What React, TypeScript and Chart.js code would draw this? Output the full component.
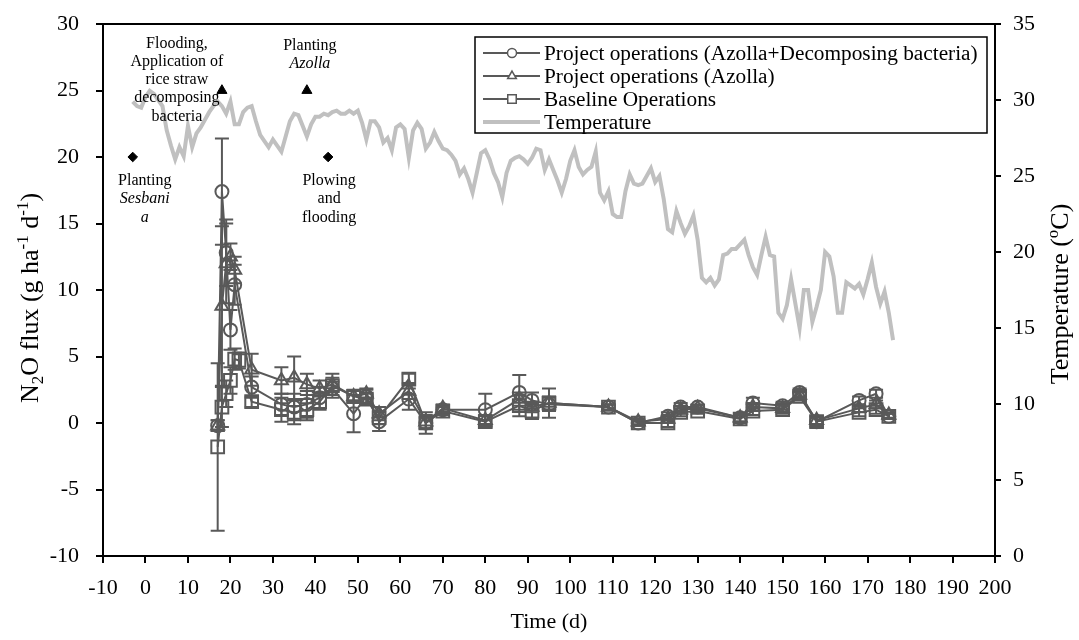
import React, { useEffect, useRef } from "react";
import { Chart, registerables } from "chart.js";

Chart.register(...registerables);

const FONT = '"Liberation Serif", "Times New Roman", Times, serif';
const SERIES_GREY = "#595959";
const TEMP_GREY = "#c0c0c0";

// Sampling days of the N2O flux measurements
const days = [17, 18, 19, 20, 21, 22, 25, 32, 35, 38, 41, 44, 49, 52, 55, 62, 66, 70, 80, 88, 91, 95, 109, 116, 123, 126, 130, 140, 143, 150, 154, 158, 168, 172, 175];

// N2O flux (g ha-1 d-1)
const fluxAzollaBacteria = [-0.2, 17.4, 12.8, 7.0, 10.4, null, 2.7, 1.4, 1.2, 1.4, 1.9, 2.6, 0.7, 2.0, 0.1, 1.8, 0.0, 1.0, 1.0, 2.3, 1.7, 1.4, 1.2, 0.0, 0.5, 1.2, 1.2, 0.4, 1.5, 1.3, 2.3, 0.1, 1.7, 2.2, 0.5];
const fluxAzolla = [-0.2, 8.8, 12.0, 12.5, 11.5, null, 4.0, 3.2, 3.4, 2.9, 2.6, 2.9, 2.0, 2.2, 0.7, 2.4, 0.1, 1.1, 0.2, 1.8, 1.2, 1.5, 1.2, 0.1, 0.3, 1.0, 1.1, 0.4, 1.2, 1.1, 2.1, 0.2, 1.1, 1.4, 0.6];
const fluxBaseline = [-1.8, 1.2, 2.2, 3.2, 4.8, 4.7, 1.6, 1.0, 0.8, 1.0, 1.6, 2.8, 2.0, 1.8, 0.4, 3.3, 0.0, 0.9, 0.1, 1.3, 0.9, 1.5, 1.2, 0.0, 0.0, 0.8, 0.9, 0.3, 0.9, 1.0, 2.0, 0.1, 0.8, 1.0, 0.5];

// Standard errors
const errAzollaBacteria = [0.4, 4.0, 2.5, 1.5, 1.5, 0, 0.8, 0.8, 1.0, 1.0, 0.8, 0.5, 1.4, 0.5, 0.7, 0.8, 0.8, 0.3, 1.2, 1.3, 0.6, 0.5, 0.2, 0.2, 0.3, 0.3, 0.2, 0.3, 0.4, 0.3, 0.3, 0.4, 0.3, 0.3, 0.2];
const errAzolla = [0.4, 6.0, 3.0, 1.0, 1.0, 0, 1.2, 1.0, 1.6, 0.8, 0.6, 0.5, 0.4, 0.4, 0.5, 0.6, 0.5, 0.3, 0.4, 0.5, 0.4, 0.5, 0.2, 0.2, 0.3, 0.3, 0.2, 0.3, 0.3, 0.3, 0.3, 0.3, 0.3, 0.3, 0.2];
const errBaseline = [6.3, 1.5, 1.0, 1.0, 0.8, 0.6, 0.4, 0.9, 0.9, 0.8, 0.6, 0.9, 0.5, 0.4, 0.5, 0.4, 0.4, 0.3, 0.4, 0.8, 0.6, 1.1, 0.2, 0.2, 0.3, 0.3, 0.2, 0.3, 0.3, 0.3, 0.3, 0.3, 0.3, 0.3, 0.2];

// Daily air temperature (°C)
const tempDays = [-3, -2, -1, 0, 1, 2, 3, 4, 5, 6, 7, 8, 9, 10, 11, 12, 13, 14, 15, 16, 17, 18, 19, 20, 21, 22, 23, 24, 25, 26, 27, 28, 29, 30, 31, 32, 33, 34, 35, 36, 37, 38, 39, 40, 41, 42, 43, 44, 45, 46, 47, 48, 49, 50, 51, 52, 53, 54, 55, 56, 57, 58, 59, 60, 61, 62, 63, 64, 65, 66, 67, 68, 69, 70, 71, 72, 73, 74, 75, 76, 77, 78, 79, 80, 81, 82, 83, 84, 85, 86, 87, 88, 89, 90, 91, 92, 93, 94, 95, 96, 97, 98, 99, 100, 101, 102, 103, 104, 105, 106, 107, 108, 109, 110, 111, 112, 113, 114, 115, 116, 117, 118, 119, 120, 121, 122, 123, 124, 125, 126, 127, 128, 129, 130, 131, 132, 133, 134, 135, 136, 137, 138, 139, 140, 141, 142, 143, 144, 145, 146, 147, 148, 149, 150, 151, 152, 153, 154, 155, 156, 157, 158, 159, 160, 161, 162, 163, 164, 165, 166, 167, 168, 169, 170, 171, 172, 173, 174, 175, 176];
const tempValues = [29.9, 29.6, 29.5, 30.2, 30.6, 30.4, 30.0, 29.6, 28.0, 27.0, 26.1, 26.9, 26.3, 28.3, 26.9, 27.8, 28.2, 28.7, 29.2, 29.6, 29.9, 29.6, 29.1, 29.9, 28.4, 28.4, 29.2, 29.5, 29.6, 28.6, 27.7, 27.3, 26.9, 27.4, 27.0, 26.6, 27.6, 28.6, 29.1, 29.0, 28.3, 27.6, 28.4, 28.9, 28.9, 29.1, 29.0, 29.2, 29.3, 29.1, 29.1, 29.3, 29.1, 29.3, 28.5, 27.4, 28.6, 28.6, 28.2, 27.2, 27.5, 26.7, 28.2, 28.4, 28.1, 26.2, 28.0, 28.5, 28.1, 26.8, 27.2, 27.9, 27.3, 26.8, 26.7, 26.4, 26.0, 25.1, 25.5, 24.8, 23.9, 25.2, 26.5, 26.7, 26.1, 25.2, 24.6, 23.6, 25.2, 26.0, 26.2, 26.3, 26.1, 25.8, 26.2, 26.8, 26.7, 25.4, 26.1, 25.4, 24.7, 23.9, 24.8, 26.0, 26.7, 25.6, 25.1, 25.4, 25.6, 26.6, 23.9, 23.4, 24.0, 22.5, 22.3, 22.3, 24.0, 25.1, 24.5, 24.4, 24.5, 25.0, 25.5, 24.6, 25.0, 23.5, 21.5, 21.3, 22.7, 21.9, 21.2, 21.7, 22.4, 20.8, 18.3, 18.0, 18.3, 17.8, 18.2, 19.8, 19.9, 20.2, 20.2, 20.5, 20.8, 19.8, 19.0, 18.5, 19.8, 21.0, 19.8, 19.7, 16.0, 15.6, 16.5, 18.2, 16.6, 15.0, 17.5, 17.5, 15.4, 16.4, 17.5, 20.0, 19.7, 18.4, 16.0, 16.0, 18.0, 17.8, 17.6, 17.9, 17.2, 18.2, 19.3, 17.7, 16.6, 17.4, 16.0, 14.2];

// Field operations
const eventDays = [-3, 18, 38, 43];
const eventLevels = [20, 25, 25, 20];
const eventMarkers = ["rectRot", "triangle", "triangle", "rectRot"];
const eventLabels: { t: string; italic?: boolean }[][] = [
  [{ t: "Planting" }, { t: "Sesbani", italic: true }, { t: "a", italic: true }],
  [{ t: "Flooding," }, { t: "Application of" }, { t: "rice straw" }, { t: "decomposing" }, { t: "bacteria" }],
  [{ t: "Planting" }, { t: "Azolla", italic: true }],
  [{ t: "Plowing" }, { t: "and" }, { t: "flooding" }],
];

const xTicksMin = -10;
const xTicksMax = 200;
const fluxMin = -10;
const fluxMax = 30;
const tempMin = 0;
const tempMax = 35;

type Part = { t: string; k?: "sub" | "sup"; italic?: boolean };

function drawRich(ctx: CanvasRenderingContext2D, parts: Part[], x: number, y: number, size: number, vertical: boolean) {
  ctx.save();
  ctx.translate(x, y);
  if (vertical) ctx.rotate(-Math.PI / 2);
  const fontFor = (p: Part) => `${p.italic ? "italic " : ""}${p.k ? Math.round(size * 0.66) : size}px ${FONT}`;
  const widths = parts.map((p) => {
    ctx.font = fontFor(p);
    return ctx.measureText(p.t).width;
  });
  const total = widths.reduce((a, b) => a + b, 0);
  let cx = -total / 2;
  ctx.textAlign = "left";
  ctx.textBaseline = "middle";
  ctx.fillStyle = "#000";
  parts.forEach((p, i) => {
    ctx.font = fontFor(p);
    const dy = p.k === "sub" ? size * 0.28 : p.k === "sup" ? -size * 0.3 : 0;
    ctx.fillText(p.t, cx, dy);
    cx += widths[i];
  });
  ctx.restore();
}

function markerPath(ctx: CanvasRenderingContext2D, style: string, x: number, y: number, r: number) {
  ctx.beginPath();
  if (style === "circle") {
    ctx.arc(x, y, r, 0, Math.PI * 2);
  } else if (style === "triangle") {
    const w = r * Math.sin(Math.PI / 3);
    ctx.moveTo(x, y - r);
    ctx.lineTo(x + w, y + r / 2);
    ctx.lineTo(x - w, y + r / 2);
    ctx.closePath();
  } else if (style === "rect") {
    const s = r * Math.SQRT1_2;
    ctx.rect(x - s, y - s, 2 * s, 2 * s);
  }
}

const errorBarPlugin = {
  id: "errorBars",
  afterDatasetsDraw(chart: any) {
    const ctx = chart.ctx as CanvasRenderingContext2D;
    const yScale = chart.scales.y;
    chart.data.datasets.forEach((ds: any, di: number) => {
      const errs = ds.errorBars as number[] | undefined;
      if (!errs) return;
      const meta = chart.getDatasetMeta(di);
      ctx.save();
      ctx.strokeStyle = ds.borderColor;
      ctx.lineWidth = 2;
      meta.data.forEach((pt: any, i: number) => {
        const v = ds.data[i].y;
        const e = errs[i];
        if (v == null || !e) return;
        const x = pt.x;
        const yt = yScale.getPixelForValue(v + e);
        const yb = yScale.getPixelForValue(v - e);
        ctx.beginPath();
        ctx.moveTo(x, yt);
        ctx.lineTo(x, yb);
        ctx.moveTo(x - 7, yt);
        ctx.lineTo(x + 7, yt);
        ctx.moveTo(x - 7, yb);
        ctx.lineTo(x + 7, yb);
        ctx.stroke();
      });
      ctx.restore();
    });
  },
};

// Notes next to the field-operation markers: offsets from the marker (px)
const noteOffsets = [
  { dx: 12, dy: 24 },
  { dx: -45, dy: -47 },
  { dx: 3, dy: -45 },
  { dx: 1, dy: 24 },
];

const decorPlugin = {
  id: "decor",
  afterDraw(chart: any) {
    const ctx = chart.ctx as CanvasRenderingContext2D;
    const { left, right, top, bottom } = chart.chartArea;
    const xs = chart.scales.x;
    const ys = chart.scales.y;

    // top frame line
    ctx.save();
    ctx.strokeStyle = "#000";
    ctx.lineWidth = 2;
    ctx.beginPath();
    ctx.moveTo(left - 1, top);
    ctx.lineTo(right + 1, top);
    ctx.stroke();
    ctx.restore();

    // operation notes
    ctx.save();
    ctx.fillStyle = "#000";
    ctx.textAlign = "center";
    ctx.textBaseline = "middle";
    eventLabels.forEach((lines, i) => {
      const px = xs.getPixelForValue(eventDays[i]) + noteOffsets[i].dx;
      const py = ys.getPixelForValue(eventLevels[i]) + noteOffsets[i].dy;
      lines.forEach((ln, j) => {
        ctx.font = `${ln.italic ? "italic " : ""}16px ${FONT}`;
        ctx.fillText(ln.t, px, py + j * 18.2);
      });
    });
    ctx.restore();

    // legend
    const box = { x: 475, y: 37, w: 512, h: 96 };
    ctx.save();
    ctx.fillStyle = "#fff";
    ctx.fillRect(box.x, box.y, box.w, box.h);
    ctx.strokeStyle = "#000";
    ctx.lineWidth = 1.5;
    ctx.strokeRect(box.x, box.y, box.w, box.h);
    const items = chart.data.datasets.filter((d: any) => d.inLegend);
    items.forEach((d: any, i: number) => {
      const cy = box.y + 16 + i * 23;
      ctx.strokeStyle = d.borderColor;
      ctx.lineWidth = d.borderWidth;
      ctx.beginPath();
      ctx.moveTo(483, cy);
      ctx.lineTo(540, cy);
      ctx.stroke();
      if (d.legendMarker) {
        ctx.lineWidth = 1.5;
        ctx.fillStyle = "#fff";
        markerPath(ctx, d.legendMarker, 512, cy, d.legendMarker === "rect" ? 6 : d.legendMarker === "triangle" ? 5 : 4.5);
        ctx.fill();
        ctx.stroke();
      }
      ctx.fillStyle = "#000";
      ctx.font = `21.3px ${FONT}`;
      ctx.textAlign = "left";
      ctx.textBaseline = "middle";
      ctx.fillText(d.label, 544, cy + 1);
    });
    ctx.restore();

    // axis titles
    drawRich(
      ctx,
      [{ t: "N" }, { t: "2", k: "sub" }, { t: "O flux (g ha" }, { t: "-1", k: "sup" }, { t: " d" }, { t: "-1", k: "sup" }, { t: ")" }],
      31,
      (top + bottom) / 2 + 8,
      26,
      true
    );
    drawRich(ctx, [{ t: "Temperature (" }, { t: "o", k: "sup" }, { t: "C)" }], 1061, (top + bottom) / 2 + 4, 26, true);
    drawRich(ctx, [{ t: "Time (d)" }], (left + right) / 2, 622, 22, false);
  },
};

const toPoints = (xs: number[], ys: (number | null)[]) => xs.map((x, i) => ({ x, y: ys[i] }));

// Fixed axis bands so the plot area sits at a known place
const fitVertical = (width: number) => (s: any) => {
  s.width = width;
  s.paddingTop = 0;
  s.paddingBottom = 0;
};

export default function App() {
  const canvasRef = useRef<HTMLCanvasElement | null>(null);

  useEffect(() => {
    document.body.style.margin = "0";
    const canvas = canvasRef.current;
    if (!canvas) return;

    const fluxSeries = (label: string, values: (number | null)[], errs: number[], style: string, radius: number) => ({
      type: "line" as const,
      label,
      data: toPoints(days, values),
      yAxisID: "y",
      borderColor: SERIES_GREY,
      borderWidth: 2,
      pointStyle: style,
      pointRadius: radius,
      pointBorderWidth: 2,
      pointBorderColor: SERIES_GREY,
      pointBackgroundColor: "rgba(0,0,0,0)",
      spanGaps: true,
      tension: 0,
      errorBars: errs,
      inLegend: true,
      legendMarker: style,
    });

    const chart = new Chart(canvas, {
      type: "line",
      data: {
        datasets: [
          fluxSeries("Project operations (Azolla+Decomposing bacteria)", fluxAzollaBacteria, errAzollaBacteria, "circle", 6.5),
          fluxSeries("Project operations (Azolla)", fluxAzolla, errAzolla, "triangle", 7.5),
          fluxSeries("Baseline Operations", fluxBaseline, errBaseline, "rect", 9),
          {
            type: "line",
            label: "Temperature",
            data: toPoints(tempDays, tempValues),
            yAxisID: "y1",
            borderColor: TEMP_GREY,
            borderWidth: 4,
            pointRadius: 0,
            tension: 0,
            inLegend: true,
          } as any,
          {
            type: "line",
            label: "Operations",
            data: toPoints(eventDays, eventLevels),
            yAxisID: "y",
            showLine: false,
            pointStyle: eventMarkers as any,
            pointRadius: [4.8, 5.8, 5.8, 4.8],
            pointBackgroundColor: "#000",
            pointBorderColor: "#000",
            pointBorderWidth: 1,
          } as any,
        ],
      },
      options: {
        responsive: false,
        animation: false,
        layout: { padding: { top: 24, left: 0, right: 0, bottom: 0 } },
        plugins: {
          legend: { display: false },
          tooltip: { enabled: false },
        },
        scales: {
          x: {
            type: "linear",
            min: xTicksMin,
            max: xTicksMax,
            afterFit: (s: any) => {
              s.height = 84;
              s.paddingLeft = 0;
              s.paddingRight = 0;
            },
            ticks: {
              stepSize: 10,
              autoSkip: false,
              maxRotation: 0,
              color: "#000",
              padding: 12,
              font: { family: FONT, size: 22 },
            },
            grid: { drawOnChartArea: false, tickLength: 7, color: "#000", lineWidth: 2 },
            border: { color: "#000", width: 2 },
          },
          y: {
            type: "linear",
            position: "left",
            min: fluxMin,
            max: fluxMax,
            afterFit: fitVertical(103),
            ticks: {
              stepSize: 5,
              color: "#000",
              padding: 17,
              font: { family: FONT, size: 22 },
            },
            grid: { drawOnChartArea: false, tickLength: 7, color: "#000", lineWidth: 2 },
            border: { color: "#000", width: 2 },
          },
          y1: {
            type: "linear",
            position: "right",
            min: tempMin,
            max: tempMax,
            afterFit: fitVertical(84),
            ticks: {
              stepSize: 5,
              color: "#000",
              padding: 12,
              font: { family: FONT, size: 22 },
            },
            grid: { drawOnChartArea: false, tickLength: 6, color: "#000", lineWidth: 2 },
            border: { color: "#000", width: 2 },
          },
        },
      },
      plugins: [errorBarPlugin, decorPlugin],
    });

    return () => chart.destroy();
  }, []);

  return (
    <div style={{ width: 1079, height: 640, background: "#fff" }}>
      <canvas ref={canvasRef} width={1079} height={640} style={{ display: "block" }} />
    </div>
  );
}
